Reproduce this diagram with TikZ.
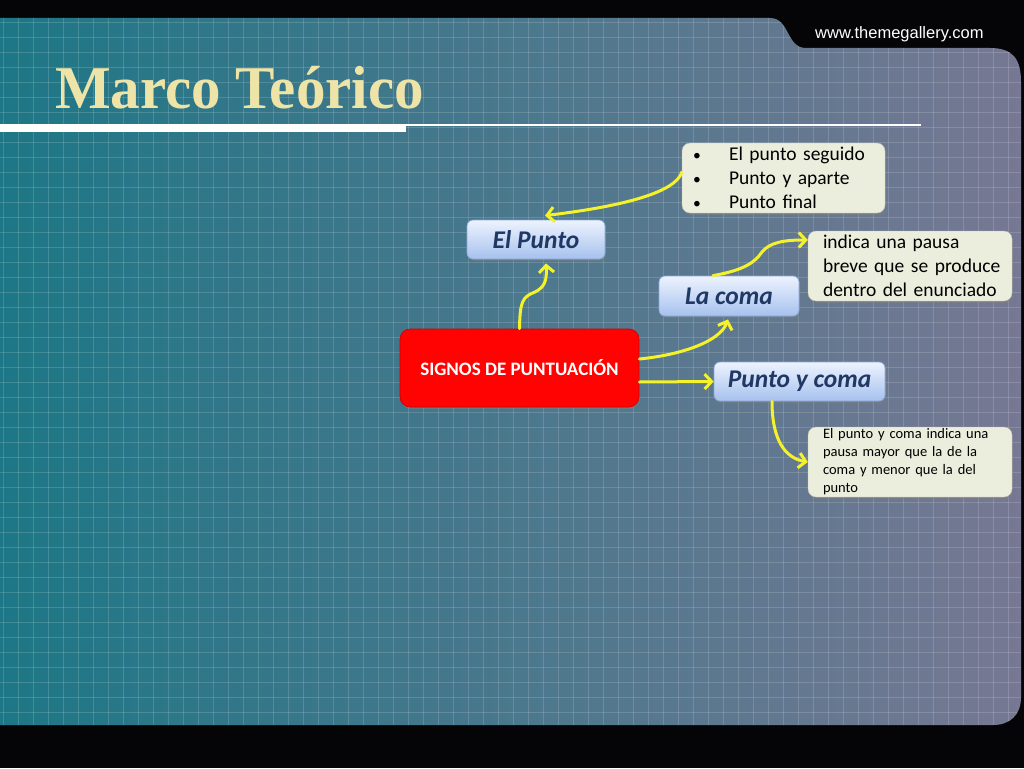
\documentclass[tikz,border=0pt]{standalone}
\usepackage{fontspec}
\setmainfont{Carlito}
\newfontfamily\titlefont{Liberation Serif}
\newfontfamily\urlfont{Liberation Sans}
\usetikzlibrary{arrows.meta,shadows}
\definecolor{bgblack}{HTML}{050507}
\definecolor{tealL}{HTML}{1D7786}
\definecolor{tealM}{HTML}{56778E}
\definecolor{greyR}{HTML}{777893}
\definecolor{titleyel}{HTML}{EEE4A8}
\definecolor{arrowyel}{HTML}{F4F22A}
\definecolor{boxbeige}{HTML}{EBEEDD}
\definecolor{bluetop}{HTML}{EDF3FE}
\definecolor{bluebot}{HTML}{A6C1EE}
\definecolor{blueedge}{HTML}{8EA8D6}
\definecolor{navytext}{HTML}{1F3864}
\definecolor{redfill}{HTML}{FF0303}
\begin{document}
\begin{tikzpicture}[x=1pt,y=-1pt,
  bluebox/.style={draw=blueedge, line width=0.8pt, rounded corners=6pt,
    top color=bluetop, bottom color=bluebot, inner sep=0pt,
    font=\fontsize{25.5}{30}\selectfont\bfseries\itshape, text=navytext,
    drop shadow={shadow xshift=1pt, shadow yshift=-2pt, opacity=0.45}},
  notebox/.style={fill=boxbeige, draw=boxbeige!80!black, line width=0.4pt, rounded corners=8pt,
    align=left, inner ysep=0pt, text=black,
    drop shadow={shadow xshift=1pt, shadow yshift=-2pt, opacity=0.45}},
  redbox/.style={fill=redfill, draw=red!80!black, line width=0.6pt, rounded corners=10pt,
    text=white, font=\fontsize{19}{23}\selectfont\bfseries, inner sep=0pt,
    drop shadow={shadow xshift=1pt, shadow yshift=-2pt, opacity=0.45}},
  link/.style={draw=arrowyel, line width=3pt, line cap=round,
    -{Straight Barb[length=7pt,width=15pt,line width=3pt]}}
]
\useasboundingbox (0,0) rectangle (1024,768);
\fill[bgblack] (0,0) rectangle (1024,768);
% panel
\def\panelpath{(-1,18) -- (770,18) .. controls (790,18) and (786,48) .. (806,48) -- (990,48) .. controls (1012,48) and (1021,58) .. (1021,82) -- (1021,697) .. controls (1021,715) and (1010,725) .. (993,725) -- (-1,725) -- cycle}
\shade[left color=tealL, middle color=tealM, right color=greyR] \panelpath;
\begin{scope}
  \clip \panelpath;
  \foreach \gx in {3,18,...,1023} \draw[white, opacity=0.15, line width=0.7pt] (\gx,0) -- (\gx,768);
  \foreach \gy in {22,37,...,725} \draw[white, opacity=0.15, line width=0.7pt] (0,\gy) -- (1024,\gy);
\end{scope}
% header
\node[font=\urlfont\fontsize{16.5}{18}\selectfont, text=white, anchor=base west, inner sep=0pt] (url) at (815,39) {www.themegallery.com};
\node[font=\titlefont\fontsize{59}{64}\selectfont\bfseries, text=titleyel, anchor=base west, inner sep=0pt, yscale=1.03] (title) at (55,108) {Marco Teórico};
\fill[white] (0,124) rectangle (406,132);
\draw[white, line width=2pt] (406,125) -- (921,125);
% nodes
\node[redbox, minimum width=239pt, minimum height=78pt] (sig) at (519.5,368) {SIGNOS DE PUNTUACIÓN};
\node[bluebox, minimum width=138pt, minimum height=39pt] (punto) at (536,239.5) {El Punto};
\node[bluebox, minimum width=140pt, minimum height=40pt] (coma) at (729,296) {La coma};
\node[bluebox, minimum width=171pt, minimum height=39pt] (pyc) at (799.5,381.5) {Punto y coma};
\node[notebox, text width=181pt, inner xsep=11pt, minimum height=70pt,
  font=\fontsize{19.5}{24}\selectfont] (bul) at (783.5,178)
  {\makebox[36pt][l]{\scalebox{0.8}{\textbullet}}El punto seguido\\\makebox[36pt][l]{\scalebox{0.8}{\textbullet}}Punto y aparte\\\makebox[36pt][l]{\scalebox{0.8}{\textbullet}}Punto final};
\node[notebox, text width=174pt, inner xsep=15pt, minimum height=70pt,
  font=\fontsize{19.5}{24}\selectfont] (ind) at (910,266)
  {\mbox{indica una pausa}\\\mbox{breve que se produce}\\\mbox{dentro del enunciado}};
\node[notebox, text width=174pt, inner xsep=15pt, minimum height=70pt,
  font=\fontsize{14.5}{18}\selectfont] (pyc2) at (910,462)
  {\mbox{El punto y coma indica una}\\\mbox{pausa mayor que la de la}\\\mbox{coma y menor que la del}\\punto};
% connectors
\draw[link] (sig.north) .. controls (520,302) and (522,297) .. (535,292) .. controls (545,287) and (547,280) .. ([xshift=10pt,yshift=-4pt]punto.south);
\draw[link] ([yshift=6pt]bul.west) .. controls (676,192) and (625,206) .. ([xshift=9pt,yshift=4pt]punto.north);
\draw[link] ([yshift=9pt]sig.east) .. controls (680,355) and (720,342) .. ([xshift=-1pt,yshift=-3pt]coma.south);
\draw[link] ([yshift=-14pt]sig.east) -- (pyc.west);
\draw[link] ([xshift=-16pt]coma.north) .. controls (745,270) and (755,262) .. (762,252) .. controls (770,242) and (785,240) .. ([yshift=26pt]ind.west);
\draw[link] ([xshift=-27.5pt]pyc.south) .. controls (772,440) and (785,458) .. (pyc2.west);
\end{tikzpicture}
\end{document}
